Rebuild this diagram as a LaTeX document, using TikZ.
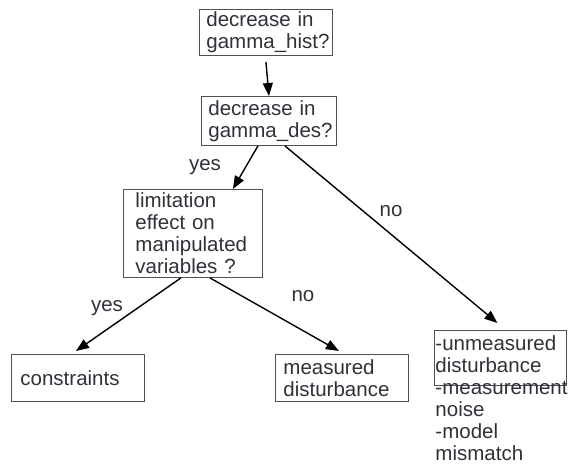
\documentclass[tikz,border=0pt]{standalone}
\usepackage{fontspec}
\setmainfont{Liberation Sans}
\usetikzlibrary{arrows.meta}
\definecolor{txtgray}{RGB}{51,47,56}
\definecolor{boxgray}{RGB}{80,80,80}
\tikzset{
	qbox/.style={draw=boxgray, line width=0.9pt, anchor=north west, align=left, text=txtgray,
		font=\fontsize{20.5}{22}\selectfont, inner ysep=0pt},
	lbl/.style={text=txtgray, font=\fontsize{20.5}{22}\selectfont, inner sep=0pt},
	arr/.style={line width=1.4pt, -{Triangle[length=13pt,width=10pt]}}
}

\begin{document}
\begin{tikzpicture}[x=1pt, y=-1pt]
	\useasboundingbox (0,0) rectangle (568,466);
	% question boxes
	\node[qbox, text width=119pt, inner xsep=7pt, minimum height=46pt] (hist) at (199,9) {decrease in\\gamma\_hist?};
	\node[qbox, text width=121pt, inner xsep=7pt, minimum height=49pt] (des) at (201,96) {decrease in\\gamma\_des?};
	\node[qbox, text width=115pt, inner xsep=12pt, minimum height=88pt] (limit) at (123,189) {limitation\\effect on\\manipulated\\variables ?};
	% answers
	\node[qbox, text width=115pt, inner xsep=9pt, minimum height=47pt] (constr) at (11,354) {constraints};
	\node[qbox, text width=117pt, inner xsep=8pt, minimum height=47pt] (measd) at (275,354) {measured\\disturbance};
	\node[qbox, text width=130pt, inner xsep=1pt, inner ysep=5pt, text depth=30pt] (unmeas) at (434,330)
		{\mbox{-unmeasured}\\disturbance\\\mbox{-measurement}\\noise\\\mbox{-model}\\mismatch};
	% connectors
	\draw[arr] ([yshift=-6pt]hist.south) -- (des.north);
	\draw[arr] ([xshift=-11pt]des.south) -- ([xshift=-30pt]limit.north east);
	\draw[arr] ([xshift=16pt]des.south) -- ([xshift=-3pt, yshift=7pt]unmeas.north);
	\draw[arr] ([xshift=-12pt]limit.south) -- ([xshift=-2pt, yshift=3pt]constr.north);
	\draw[arr] ([xshift=17pt]limit.south) -- ([xshift=-3pt, yshift=3pt]measd.north);
	% labels
	\node[lbl] (yes1) at (205,167) {yes};
	\node[lbl] (no1) at (391,211) {no};
	\node[lbl] (yes2) at (107,308) {yes};
	\node[lbl] (no2) at (303,296) {no};
\end{tikzpicture}
\end{document}
